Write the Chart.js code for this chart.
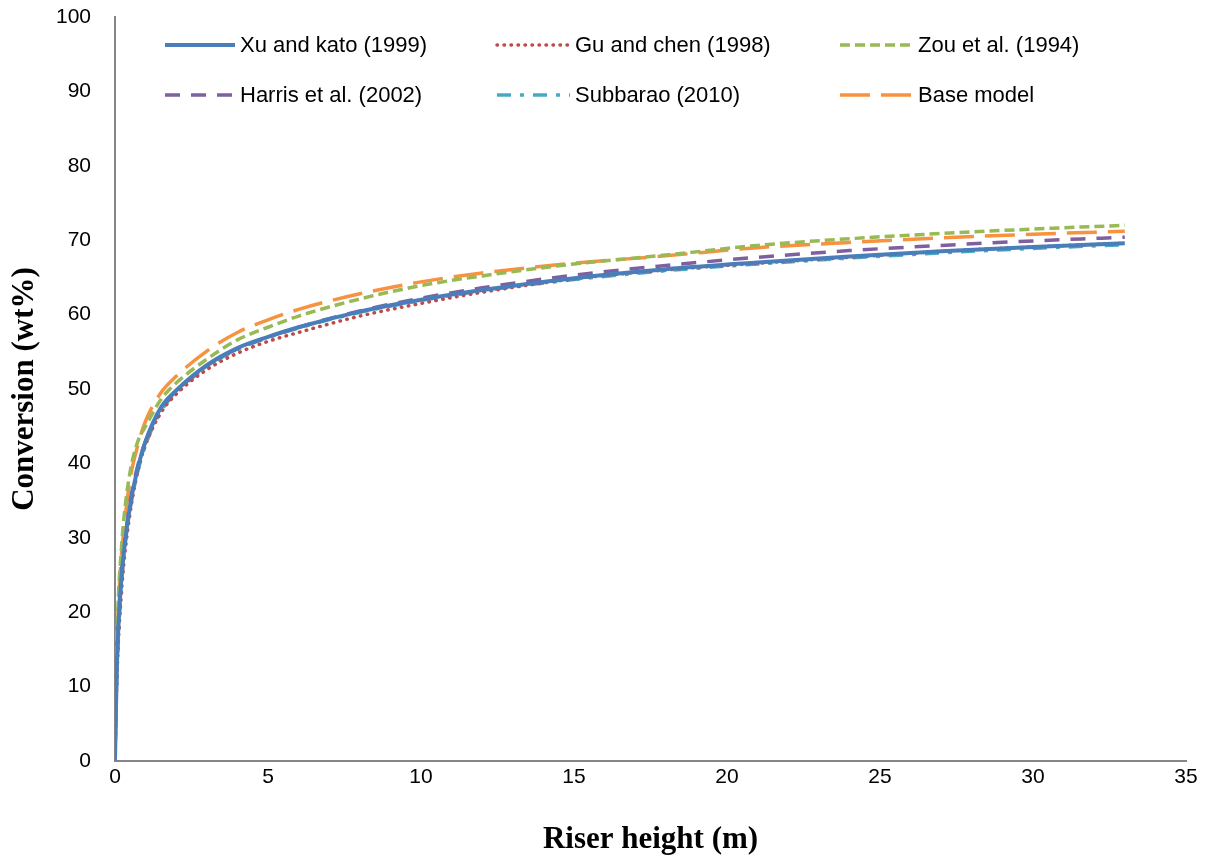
<!DOCTYPE html>
<html>
<head>
<meta charset="utf-8">
<script src="https://cdn.jsdelivr.net/npm/chart.js@4.4.1/dist/chart.umd.min.js"></script>
<style>
  html, body { margin: 0; padding: 0; background: #fff; }
  #wrap { width: 1211px; height: 859px; }
</style>
</head>
<body>
<div id="wrap"><canvas id="conversionChart" width="1211" height="859"></canvas></div>
<script>
// riser height (m)
const heights = [0, 0.05, 0.1, 0.2, 0.3, 0.5, 0.75, 1, 1.5, 2, 3, 4, 5, 6, 8, 10, 12, 15, 18, 21, 24, 27, 30, 33];

// conversion (wt%)
const xuKato   = [0, 11, 17, 24, 28.5, 34.5, 39.5, 43, 47.5, 49.8, 53.2, 55.5, 57.0, 58.3, 60.4, 62.0, 63.3, 64.9, 66.1, 67.0, 67.8, 68.5, 69.1, 69.6];
const guChen   = [0, 9, 15, 22, 27, 33.5, 39, 42.5, 46.8, 49.3, 52.6, 54.8, 56.4, 57.6, 59.8, 61.5, 63.0, 64.8, 66.0, 66.9, 67.7, 68.5, 69.1, 69.6];
const zou      = [0, 14, 21, 28, 33, 39, 43, 45, 48.6, 50.8, 54.0, 56.6, 58.3, 59.8, 62.1, 63.9, 65.2, 66.8, 68.0, 69.3, 70.2, 70.9, 71.5, 72.0];
const harris   = [0, 12, 18, 25, 29, 35, 39.8, 43, 47.3, 49.7, 53.1, 55.4, 57.0, 58.3, 60.5, 62.2, 63.6, 65.3, 66.6, 67.7, 68.6, 69.3, 69.9, 70.4];
const subbarao = [0, 10, 16, 23, 28, 34, 39, 42.5, 47, 49.5, 53.0, 55.3, 56.9, 58.2, 60.3, 61.9, 63.2, 64.7, 65.9, 66.8, 67.6, 68.3, 68.9, 69.4];
const baseModel = [0, 13, 20, 27, 31.5, 38, 42.5, 45.7, 49.5, 51.7, 55.1, 57.6, 59.3, 60.7, 62.8, 64.4, 65.6, 66.9, 67.9, 69.0, 69.7, 70.3, 70.8, 71.2];

const xTicks = [0, 5, 10, 15, 20, 25, 30, 35];
const yTicks = [0, 10, 20, 30, 40, 50, 60, 70, 80, 90, 100];

function pts(vals) {
    return heights.map((h, i) => ({ x: h, y: vals[i] }));
}

function line(label, vals, color, dash, width, cap) {
    return {
        label: label,
        data: pts(vals),
        borderColor: color,
        backgroundColor: color,
        borderWidth: width,
        borderDash: dash,
        borderCapStyle: cap || 'butt',
        pointRadius: 0,
        cubicInterpolationMode: 'monotone',
        fill: false,
    };
}

// drop the automatic label overhang so the plot box matches the original
function noPad(s) {
    s.paddingTop = 0;
    s.paddingBottom = 0;
    s.paddingLeft = 0;
    s.paddingRight = 0;
}

// legend drawn inside the plot, 3 columns x 2 rows like the original
const legendSlots = [
    { x: 165, y: 45, len: 70 },
    { x: 497, y: 45, len: 73 },
    { x: 840, y: 45, len: 73 },
    { x: 165, y: 95, len: 70 },
    { x: 497, y: 95, len: 73 },
    { x: 840, y: 95, len: 73 },
];

const innerLegend = {
    id: 'innerLegend',
    afterDraw(chart) {
        let ctx = chart.ctx;
        ctx.save();
        chart.data.datasets.forEach((ds, i) => {
            let s = legendSlots[i];
            ctx.beginPath();
            ctx.strokeStyle = ds.borderColor;
            ctx.lineWidth = ds.borderWidth;
            ctx.lineCap = ds.borderCapStyle;
            ctx.setLineDash(ds.borderDash);
            ctx.moveTo(s.x, s.y);
            ctx.lineTo(s.x + s.len, s.y);
            ctx.stroke();
            ctx.setLineDash([]);
            ctx.fillStyle = '#000';
            ctx.font = '22px "Liberation Sans", Arial, sans-serif';
            ctx.textBaseline = 'middle';
            ctx.textAlign = 'left';
            ctx.fillText(ds.label, s.x + s.len + 5, s.y + 1);
        });
        ctx.restore();
    }
};

let ctx = document.getElementById('conversionChart').getContext('2d');

let conversionChart = new Chart(ctx, {
    type: 'line',
    data: {
        datasets: [
            line('Xu and kato (1999)', xuKato, '#4a7ebb', [], 4),
            line('Gu and chen (1998)', guChen, '#be4b48', [0.5, 6.5], 3.5, 'round'),
            line('Zou et al. (1994)', zou, '#98b954', [10, 5], 3.5),
            line('Harris et al. (2002)', harris, '#7d60a0', [15, 11], 3.5),
            line('Subbarao (2010)', subbarao, '#46aac5', [14, 9, 4, 9], 3.5),
            line('Base model', baseModel, '#f69240', [30, 11], 3.5),
        ]
    },
    options: {
        responsive: false,
        animation: false,
        layout: {
            padding: { top: 17, right: 25, left: 0, bottom: 0 }
        },
        plugins: {
            legend: { display: false },
            tooltip: { enabled: false },
        },
        scales: {
            x: {
                type: 'linear',
                min: 0,
                max: 35,
                afterFit: s => { s.height = 98; noPad(s); },
                afterBuildTicks: s => { s.ticks = xTicks.map(v => ({ value: v })); },
                grid: { display: false, drawTicks: false },
                border: { display: true, color: '#868686', width: 2 },
                ticks: {
                    color: '#000',
                    padding: 4,
                    font: { family: '"Liberation Sans", Arial, sans-serif', size: 21 },
                },
                title: {
                    display: true,
                    text: 'Riser height (m)',
                    color: '#000',
                    padding: { top: 8, bottom: 0 },
                    font: { family: '"Liberation Serif", "Times New Roman", serif', size: 31, weight: 'bold' },
                },
            },
            y: {
                min: 0,
                max: 100,
                afterFit: s => { s.width = 115; noPad(s); },
                afterBuildTicks: s => { s.ticks = yTicks.map(v => ({ value: v })); },
                grid: { display: false, drawTicks: false },
                border: { display: true, color: '#868686', width: 2 },
                ticks: {
                    color: '#000',
                    padding: 24,
                    font: { family: '"Liberation Sans", Arial, sans-serif', size: 21 },
                },
                title: {
                    display: true,
                    text: 'Conversion (wt%)',
                    color: '#000',
                    padding: { top: 6, bottom: 0 },
                    font: { family: '"Liberation Serif", "Times New Roman", serif', size: 31, weight: 'bold' },
                },
            }
        }
    },
    plugins: [innerLegend]
});
</script>
</body>
</html>
